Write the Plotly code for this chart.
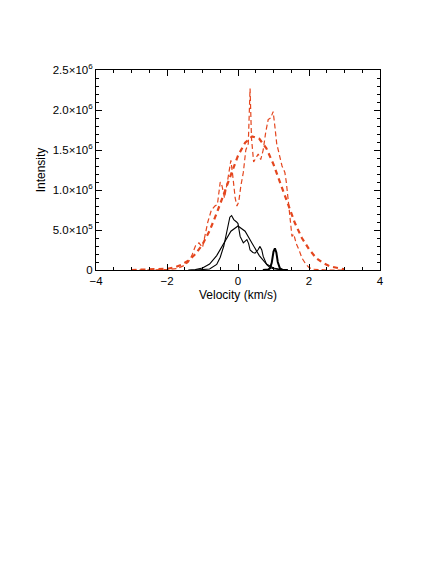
import plotly.graph_objects as go

# velocity axis (km/s) and intensities (units of 1e6)
vel_fit = [-3.0, -2.6, -2.2, -2.0, -1.8, -1.6, -1.4, -1.2, -1.0, -0.8, -0.6, -0.4, -0.2,
           0.0, 0.2, 0.4, 0.6, 0.8, 1.0, 1.2, 1.4, 1.6, 1.8, 2.0, 2.2, 2.4, 2.6, 2.8, 3.0]
int_fit = [0.0, 0.004, 0.01, 0.015, 0.032, 0.063, 0.116, 0.199, 0.32, 0.49, 0.71, 0.95, 1.20,
           1.43, 1.59, 1.67, 1.64, 1.52, 1.32, 1.08, 0.83, 0.59, 0.40, 0.26, 0.15, 0.086, 0.045, 0.022, 0.008]

vel_obs = [-3.0, -2.5, -2.0, -1.7, -1.5, -1.4, -1.3, -1.2, -1.1, -1.0, -0.92, -0.85, -0.75,
           -0.65, -0.58, -0.5, -0.45, -0.38, -0.3, -0.24, -0.2, -0.14, -0.08, -0.03, 0.02,
           0.08, 0.15, 0.22, 0.29, 0.34, 0.38, 0.44, 0.5, 0.57, 0.64, 0.71, 0.78, 0.85, 0.92,
           0.99, 1.04, 1.09, 1.16, 1.24, 1.32, 1.36, 1.42, 1.48, 1.52, 1.57, 1.64, 1.72, 1.8,
           1.9, 2.0, 2.1, 2.5, 3.0]
int_obs = [0.0, 0.0, 0.005, 0.02, 0.06, 0.1, 0.18, 0.3, 0.34, 0.28, 0.45, 0.6, 0.75,
           0.8, 0.82, 1.1, 1.05, 0.9, 1.1, 1.3, 1.37, 1.15, 0.9, 0.8, 0.85,
           1.05, 1.22, 1.5, 1.58, 2.27, 1.65, 1.35, 1.4, 1.45, 1.38, 1.5, 1.72, 1.88, 1.9,
           1.98, 1.79, 1.58, 1.45, 1.3, 1.22, 1.1, 0.85, 0.55, 0.42, 0.45, 0.33, 0.25, 0.15,
           0.08, 0.03, 0.01, 0.0, 0.0]

vel_bfit = [-1.4, -1.2, -1.0, -0.8, -0.6, -0.4, -0.2, 0.0, 0.2, 0.4, 0.6, 0.8, 1.0, 1.2, 1.4]
int_bfit = [0.0, 0.006, 0.024, 0.074, 0.18, 0.33, 0.485, 0.55, 0.485, 0.33, 0.18, 0.074, 0.024, 0.006, 0.0]

vel_bobs = [-1.2, -1.0, -0.8, -0.6, -0.5, -0.4, -0.3, -0.23, -0.18, -0.12, -0.04, 0.0, 0.06,
            0.15, 0.25, 0.3, 0.34, 0.42, 0.48, 0.56, 0.62, 0.67, 0.71, 0.81, 0.9, 1.0, 1.2, 1.4]
int_bobs = [0.0, 0.004, 0.012, 0.07, 0.16, 0.3, 0.5, 0.66, 0.68, 0.63, 0.6, 0.58, 0.42,
            0.34, 0.38, 0.33, 0.25, 0.22, 0.21, 0.25, 0.295, 0.25, 0.17, 0.066, 0.03, 0.015, 0.005, 0.0]

vel_peak = [0.7, 0.85, 0.9, 0.95, 1.0, 1.04, 1.08, 1.12, 1.18, 1.25, 1.4]
int_peak = [0.0, 0.005, 0.02, 0.09, 0.23, 0.27, 0.22, 0.1, 0.02, 0.004, 0.0]

y_tickvals = [0, 0.5e6, 1.0e6, 1.5e6, 2.0e6, 2.5e6]
y_ticktext = ["0", "5.0×10<sup>5</sup>", "1.0×10<sup>6</sup>", "1.5×10<sup>6</sup>",
              "2.0×10<sup>6</sup>", "2.5×10<sup>6</sup>"]

red = "#e4461e"


def scale(vals):
    return [v * 1e6 for v in vals]


fig = go.Figure()
fig.add_trace(go.Scatter(x=vel_obs, y=scale(int_obs), mode="lines",
                         line=dict(color=red, width=1.2, dash="5px,3px")))
fig.add_trace(go.Scatter(x=vel_fit, y=scale(int_fit), mode="lines",
                         line=dict(color=red, width=2.2, dash="5px,4px")))
fig.add_trace(go.Scatter(x=vel_bfit, y=scale(int_bfit), mode="lines",
                         line=dict(color="black", width=1.1)))
fig.add_trace(go.Scatter(x=vel_bobs, y=scale(int_bobs), mode="lines",
                         line=dict(color="black", width=1.1)))
fig.add_trace(go.Scatter(x=vel_peak, y=scale(int_peak), mode="lines",
                         line=dict(color="black", width=2)))

axis_style = dict(showline=True, linecolor="black", linewidth=1, mirror="allticks",
                  ticks="inside", tickcolor="black", ticklen=6, showgrid=False,
                  zeroline=False, tickfont=dict(size=11.5, color="black"))

# the page body has an 8px default margin, so the margins here are 8px less
fig.update_layout(
    width=436, height=564,
    margin=dict(l=88, r=64, t=62, b=302),
    paper_bgcolor="white", plot_bgcolor="white",
    showlegend=False,
    font=dict(family="Liberation Sans, Arial, sans-serif", size=11.5, color="black"),
    xaxis=dict(range=[-4, 4], tickvals=[-4, -2, 0, 2, 4],
               minor=dict(dtick=0.5, ticks="inside", ticklen=3, tickcolor="black"),
               title=dict(text="Velocity (km/s)", font=dict(size=12), standoff=4),
               **axis_style),
    yaxis=dict(range=[0, 2.5e6], tickvals=y_tickvals, ticktext=y_ticktext,
               minor=dict(dtick=1e5, ticks="inside", ticklen=3, tickcolor="black"),
               title=dict(text="Intensity", font=dict(size=12), standoff=4),
               **axis_style),
)

fig.write_html("out.html")
